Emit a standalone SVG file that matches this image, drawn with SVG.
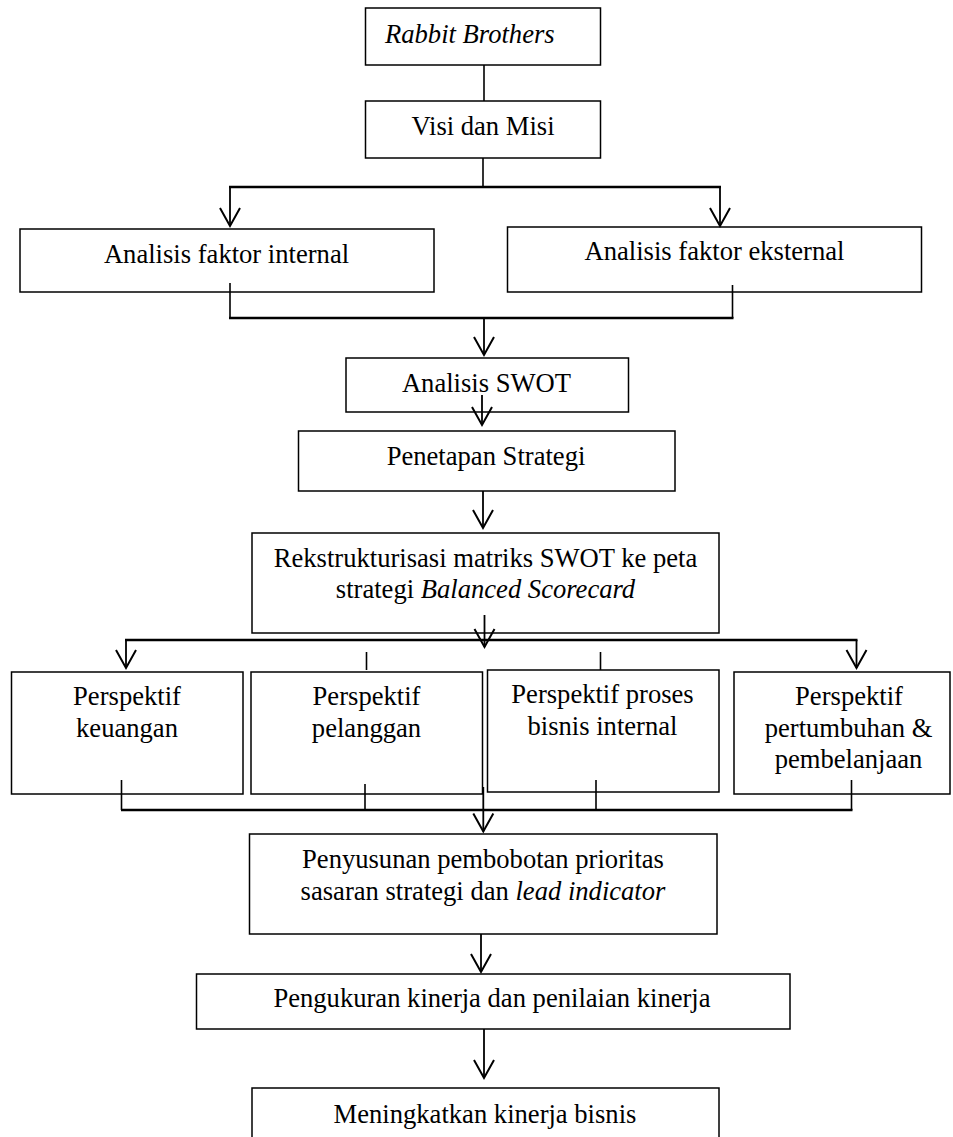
<svg xmlns="http://www.w3.org/2000/svg" width="953" height="1137" viewBox="0 0 953 1137">
<defs>
<style>
.box{fill:#fff;stroke:#000;stroke-width:1.5}
.t{font-family:"Liberation Serif","Times New Roman",serif;font-size:26.6px;fill:#000;text-anchor:middle}
.i{font-style:italic}
.c{stroke:#000;stroke-width:1.6;fill:none}
.bus{stroke:#000;stroke-width:2.5;fill:none}
.a{stroke:#000;stroke-width:1.8;fill:none;marker-end:url(#ah)}
</style>
<marker id="ah" markerUnits="userSpaceOnUse" viewBox="-20 -12 22 24" markerWidth="22" markerHeight="24" refX="0" refY="0" orient="auto" overflow="visible">
<path d="M-18,-10 L0,0 L-18,10" fill="none" stroke="#000" stroke-width="2"/>
</marker>
</defs>
<rect width="953" height="1137" fill="#fff"/>

<g id="n-rabbit"><rect class="box" x="365.5" y="8" width="235" height="57"/><text class="t i" x="385" y="43" style="text-anchor:start">Rabbit Brothers</text></g>
<g id="n-visi"><rect class="box" x="365.5" y="101" width="235" height="57"/><text class="t" x="483" y="135">Visi dan Misi</text></g>
<g id="n-internal"><rect class="box" x="20" y="229" width="414" height="63"/><text class="t" x="226.5" y="263">Analisis faktor internal</text></g>
<g id="n-eksternal"><rect class="box" x="507.5" y="227" width="414" height="65"/><text class="t" x="714.5" y="260">Analisis faktor eksternal</text></g>
<g id="n-swot"><rect class="box" x="346" y="358" width="282.5" height="54"/><text class="t" x="486.5" y="392">Analisis SWOT</text></g>
<g id="n-penetapan"><rect class="box" x="298.5" y="431" width="376.5" height="60"/><text class="t" x="486" y="465">Penetapan Strategi</text></g>
<g id="n-rekstruk"><rect class="box" x="252" y="533" width="467" height="100"/><text class="t" x="485.5" y="567">Rekstrukturisasi matriks SWOT ke peta</text><text class="t" x="485.5" y="598">strategi <tspan class="i">Balanced Scorecard</tspan></text></g>
<g id="n-keuangan"><rect class="box" x="11.5" y="672" width="231.5" height="122"/><text class="t" x="127" y="705">Perspektif</text><text class="t" x="127" y="737">keuangan</text></g>
<g id="n-pelanggan"><rect class="box" x="251" y="672" width="231.5" height="122"/><text class="t" x="366.5" y="705">Perspektif</text><text class="t" x="366.5" y="737">pelanggan</text></g>
<g id="n-proses"><rect class="box" x="487.5" y="670" width="231.5" height="122"/><text class="t" x="602.5" y="703">Perspektif proses</text><text class="t" x="602.5" y="735">bisnis internal</text></g>
<g id="n-pertumbuhan"><rect class="box" x="734" y="672" width="216" height="122"/><text class="t" x="849" y="705">Perspektif</text><text class="t" x="848.5" y="737">pertumbuhan &amp;</text><text class="t" x="848.5" y="768">pembelanjaan</text></g>
<g id="n-penyusunan"><rect class="box" x="249.5" y="834" width="467.5" height="100"/><text class="t" x="483" y="868">Penyusunan pembobotan prioritas</text><text class="t" x="483" y="900">sasaran strategi dan <tspan class="i">lead indicator</tspan></text></g>
<g id="n-pengukuran"><rect class="box" x="196.5" y="974" width="593.5" height="55"/><text class="t" x="492" y="1007">Pengukuran kinerja dan penilaian kinerja</text></g>
<g id="n-meningkatkan"><rect class="box" x="252" y="1088" width="467" height="60"/><text class="t" x="485" y="1123">Meningkatkan kinerja bisnis</text></g>

<g id="connectors">
<line class="c" x1="484" y1="65" x2="484" y2="101"/>
<line class="c" x1="483" y1="158" x2="483" y2="187"/>
<line class="bus" x1="229" y1="187" x2="721" y2="187"/>
<line class="a" x1="230" y1="187" x2="230" y2="226"/>
<line class="a" x1="720" y1="187" x2="720" y2="226"/>
<line class="c" x1="230" y1="283" x2="230" y2="318"/>
<line class="c" x1="732.5" y1="285" x2="732.5" y2="318"/>
<line class="bus" x1="229" y1="318" x2="733.5" y2="318"/>
<line class="a" x1="484" y1="318" x2="484" y2="355"/>
<line class="a" x1="482" y1="395" x2="482" y2="425"/>
<line class="a" x1="483" y1="491" x2="483" y2="528"/>
<line class="a" x1="484.5" y1="615" x2="484.5" y2="647"/>
<line class="bus" x1="125" y1="640" x2="857.5" y2="640"/>
<line class="a" x1="126" y1="640" x2="126" y2="668"/>
<line class="a" x1="856.5" y1="640" x2="856.5" y2="668"/>
<line class="c" x1="366.5" y1="652" x2="366.5" y2="670"/>
<line class="c" x1="600.5" y1="652" x2="600.5" y2="670"/>
<line class="c" x1="121.5" y1="780" x2="121.5" y2="810"/>
<line class="c" x1="365" y1="784" x2="365" y2="810"/>
<line class="c" x1="596" y1="780" x2="596" y2="810"/>
<line class="c" x1="851.5" y1="780" x2="851.5" y2="810"/>
<line class="bus" x1="121" y1="810" x2="852.5" y2="810"/>
<line class="a" x1="483.3" y1="787" x2="483.3" y2="831.5"/>
<line class="a" x1="481" y1="934" x2="481" y2="972"/>
<line class="a" x1="484" y1="1029" x2="484" y2="1078"/>
</g>
</svg>
